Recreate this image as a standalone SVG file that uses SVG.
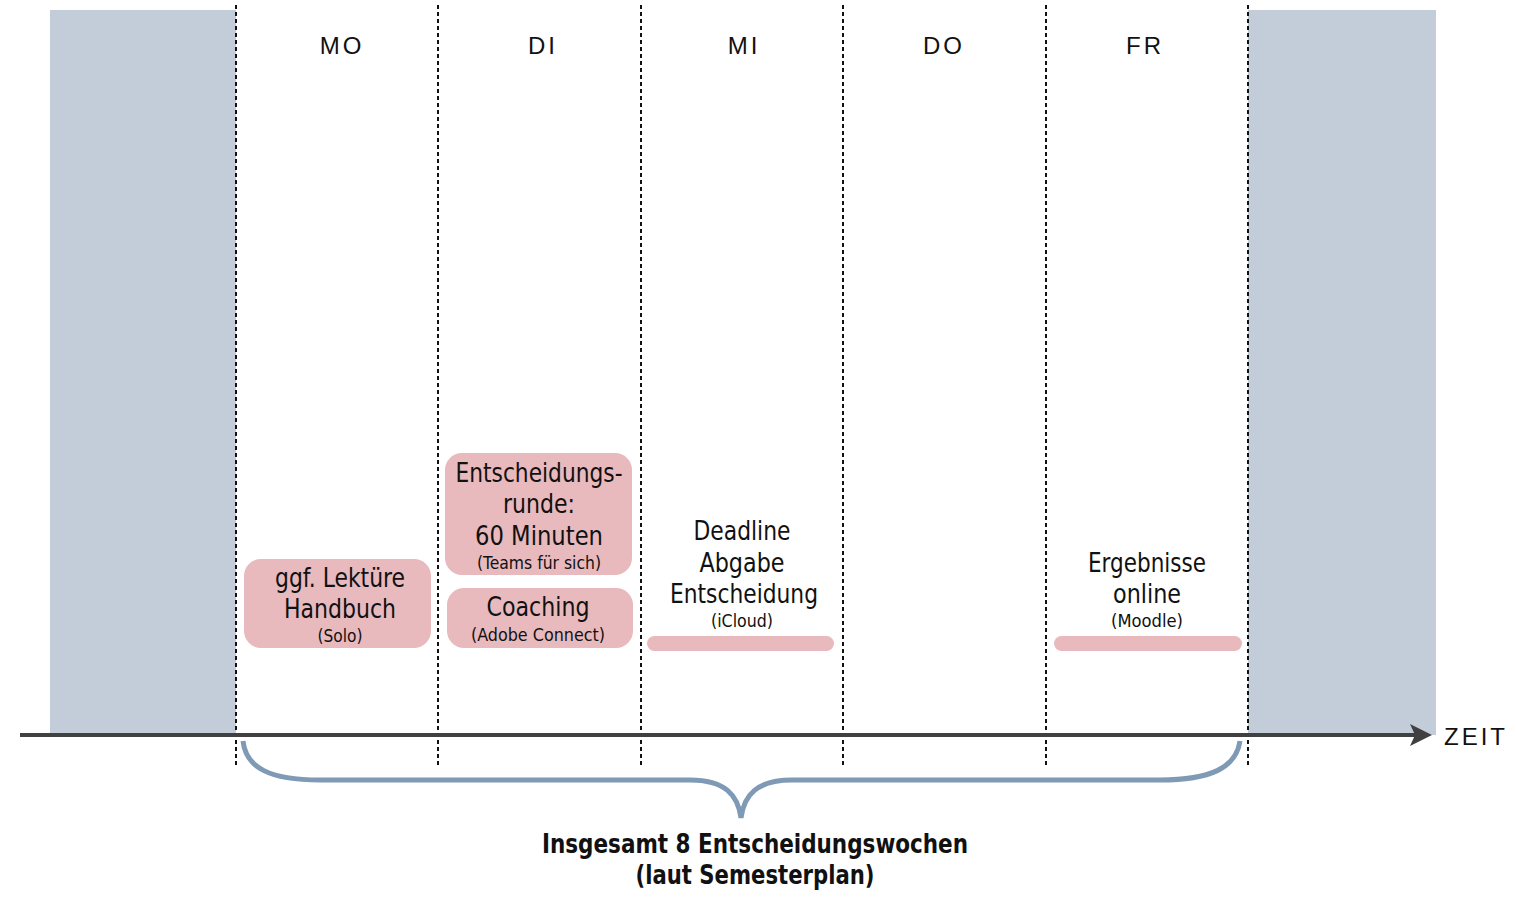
<svg xmlns="http://www.w3.org/2000/svg" width="1516" height="899" viewBox="0 0 1516 899">
<defs>
<style>
.t{font-family:"DejaVu Sans Condensed","Liberation Sans",sans-serif;fill:#111;text-anchor:middle}
.big{font-size:27px}
.small{font-size:18px}
.day{font-family:"Liberation Sans","DejaVu Sans",sans-serif;font-size:24px;letter-spacing:3px;fill:#111;text-anchor:middle}
.box{fill:#e8b9bd}
.sep{stroke:#111;stroke-width:2;stroke-dasharray:4 3;fill:none}
.panel{fill:#c3cdda}
</style>
</defs>
<rect width="1516" height="899" fill="#fff"/>
<g id="panels">
<rect class="panel" x="50" y="10" width="186" height="725"/>
<rect class="panel" x="1248" y="10" width="188" height="725"/>
</g>
<g id="separators">
<line class="sep" x1="236" y1="5" x2="236" y2="768"/>
<line class="sep" x1="438" y1="5" x2="438" y2="768"/>
<line class="sep" x1="641" y1="5" x2="641" y2="768"/>
<line class="sep" x1="843" y1="5" x2="843" y2="768"/>
<line class="sep" x1="1046" y1="5" x2="1046" y2="768"/>
<line class="sep" x1="1248" y1="5" x2="1248" y2="768"/>
</g>
<g id="days">
<text class="day" x="342" y="54">MO</text>
<text class="day" x="543" y="54">DI</text>
<text class="day" x="744" y="54">MI</text>
<text class="day" x="944" y="54">DO</text>
<text class="day" x="1145" y="54">FR</text>
</g>
<g id="node-mo">
<rect class="box" x="244" y="559" width="187" height="89" rx="17"/>
<text class="t big" x="340" y="587" textLength="130" lengthAdjust="spacingAndGlyphs">ggf. Lektüre</text>
<text class="t big" x="340" y="618" textLength="112" lengthAdjust="spacingAndGlyphs">Handbuch</text>
<text class="t small" x="340" y="642" textLength="45" lengthAdjust="spacingAndGlyphs">(Solo)</text>
</g>
<g id="node-di-runde">
<rect class="box" x="445" y="453" width="187" height="122" rx="17"/>
<text class="t big" x="539" y="482" textLength="167" lengthAdjust="spacingAndGlyphs">Entscheidungs-</text>
<text class="t big" x="539" y="513" textLength="72" lengthAdjust="spacingAndGlyphs">runde:</text>
<text class="t big" x="539" y="545" textLength="128" lengthAdjust="spacingAndGlyphs">60 Minuten</text>
<text class="t small" x="539" y="569" textLength="124" lengthAdjust="spacingAndGlyphs">(Teams für sich)</text>
</g>
<g id="node-di-coaching">
<rect class="box" x="447" y="588" width="186" height="60" rx="17"/>
<text class="t big" x="538" y="616" textLength="103" lengthAdjust="spacingAndGlyphs">Coaching</text>
<text class="t small" x="538" y="641" textLength="134" lengthAdjust="spacingAndGlyphs">(Adobe Connect)</text>
</g>
<g id="node-mi">
<rect class="box" x="647" y="636" width="187" height="15" rx="7.5"/>
<text class="t big" x="742" y="540" textLength="97" lengthAdjust="spacingAndGlyphs">Deadline</text>
<text class="t big" x="742" y="572" textLength="85" lengthAdjust="spacingAndGlyphs">Abgabe</text>
<text class="t big" x="744" y="603" textLength="148" lengthAdjust="spacingAndGlyphs">Entscheidung</text>
<text class="t small" x="742" y="627" textLength="62" lengthAdjust="spacingAndGlyphs">(iCloud)</text>
</g>
<g id="node-fr">
<rect class="box" x="1054" y="636" width="188" height="15" rx="7.5"/>
<text class="t big" x="1147" y="572" textLength="118" lengthAdjust="spacingAndGlyphs">Ergebnisse</text>
<text class="t big" x="1147" y="603" textLength="68" lengthAdjust="spacingAndGlyphs">online</text>
<text class="t small" x="1147" y="627" textLength="72" lengthAdjust="spacingAndGlyphs">(Moodle)</text>
</g>
<g id="connectors">
<line x1="20" y1="735" x2="1418" y2="735" stroke="#404040" stroke-width="4"/>
<path d="M1410,724 L1432,735 L1410,746 L1415,735 Z" fill="#404040"/>
<path d="M243,741 C246,768 270,780 320,780 L690,780 C725,780 738,795 741,818 C744,795 757,780 792,780 L1160,780 C1210,780 1236,768 1240,741" fill="none" stroke="#7f9ab5" stroke-width="5"/>
</g>
<g id="labels">
<text class="day" x="1476" y="745" style="letter-spacing:3px">ZEIT</text>
<text class="t" x="755" y="853" style="font-size:27px;font-weight:bold" textLength="426" lengthAdjust="spacingAndGlyphs">Insgesamt 8 Entscheidungswochen</text>
<text class="t" x="755" y="884" style="font-size:27px;font-weight:bold" textLength="239" lengthAdjust="spacingAndGlyphs">(laut Semesterplan)</text>
</g>
</svg>
